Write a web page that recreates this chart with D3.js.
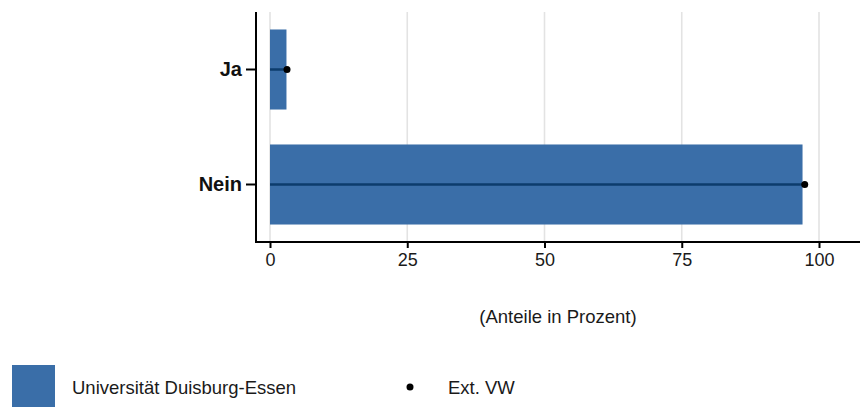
<!DOCTYPE html>
<html><head><meta charset="utf-8">
<script src="https://cdn.jsdelivr.net/npm/d3@7"></script>
<style>body{margin:0;background:#fff}svg{display:block;font-family:"Liberation Sans",Arial,sans-serif}</style>
</head><body>
<svg id="c" width="863" height="409"></svg>
<script>
const categories = ["Ja", "Nein"];
const udeValues = [3.0, 97.0];
const extValues = [3.1, 97.4];
const xTicks = [0, 25, 50, 75, 100];
const seriesNames = ["Universität Duisburg-Essen", "Ext. VW"];

const svg = d3.select("#c");
const x = d3.scaleLinear().domain([0, 100]).range([270, 819]);
const y = d3.scaleBand().domain(categories).range([12, 242]).paddingInner(0.304).paddingOuter(0.152);
const barColor = "#3a6ea8", lineColor = "#0c3c6c";
const FONT = "Liberation Sans, Arial, sans-serif";

// grid
svg.append("g").selectAll("line").data(xTicks).join("line")
  .attr("x1", d => x(d)).attr("x2", d => x(d)).attr("y1", 12).attr("y2", 242)
  .attr("stroke", "#e3e3e3").attr("stroke-width", 1.6);

// bars
svg.append("g").selectAll("rect").data(categories).join("rect")
  .attr("x", x(0)).attr("y", d => y(d))
  .attr("width", (d, i) => x(udeValues[i]) - x(0)).attr("height", y.bandwidth())
  .attr("fill", barColor);

// lines + points
svg.append("g").selectAll("line").data(categories).join("line")
  .attr("x1", x(0)).attr("x2", (d, i) => x(extValues[i]))
  .attr("y1", d => y(d) + y.bandwidth() / 2).attr("y2", d => y(d) + y.bandwidth() / 2)
  .attr("stroke", lineColor).attr("stroke-width", 2.5);
svg.append("g").selectAll("circle").data(categories).join("circle")
  .attr("cx", (d, i) => x(extValues[i])).attr("cy", d => y(d) + y.bandwidth() / 2)
  .attr("r", 3.5).attr("fill", "#000");

// axes
const xAxis = svg.append("g").attr("transform", "translate(0,242)")
  .call(d3.axisBottom(x).tickValues(xTicks).tickSize(6).tickPadding(5).tickSizeOuter(0));
xAxis.select(".domain").remove();
xAxis.append("line").attr("x1", 256).attr("x2", 860).attr("stroke", "#000").attr("stroke-width", 2);
xAxis.selectAll(".tick line").attr("stroke-width", 2);
xAxis.selectAll(".tick text").attr("font-size", 18).attr("fill", "#1a1a1a").attr("font-family", FONT);

const yAxis = svg.append("g").attr("transform", "translate(256,0)")
  .call(d3.axisLeft(y).tickSize(10).tickPadding(4).tickSizeOuter(0));
yAxis.select(".domain").remove();
yAxis.append("line").attr("y1", 12).attr("y2", 243).attr("stroke", "#000").attr("stroke-width", 2);
yAxis.selectAll(".tick line").attr("stroke-width", 2);
yAxis.selectAll(".tick text").attr("font-size", 20).attr("font-weight", "bold").attr("fill", "#111").attr("font-family", FONT);

svg.append("text").attr("x", 558).attr("y", 323).attr("text-anchor", "middle")
  .attr("font-size", 18.5).attr("fill", "#1a1a1a").text("(Anteile in Prozent)");

// legend
svg.append("rect").attr("x", 12).attr("y", 365).attr("width", 43).attr("height", 42).attr("fill", barColor);
svg.append("text").attr("x", 72).attr("y", 394).attr("font-size", 18.5).attr("fill", "#1a1a1a").text(seriesNames[0]);
svg.append("circle").attr("cx", 410).attr("cy", 387).attr("r", 3.5).attr("fill", "#000");
svg.append("text").attr("x", 448).attr("y", 394).attr("font-size", 18.5).attr("fill", "#1a1a1a").text(seriesNames[1]);
</script>
</body></html>
